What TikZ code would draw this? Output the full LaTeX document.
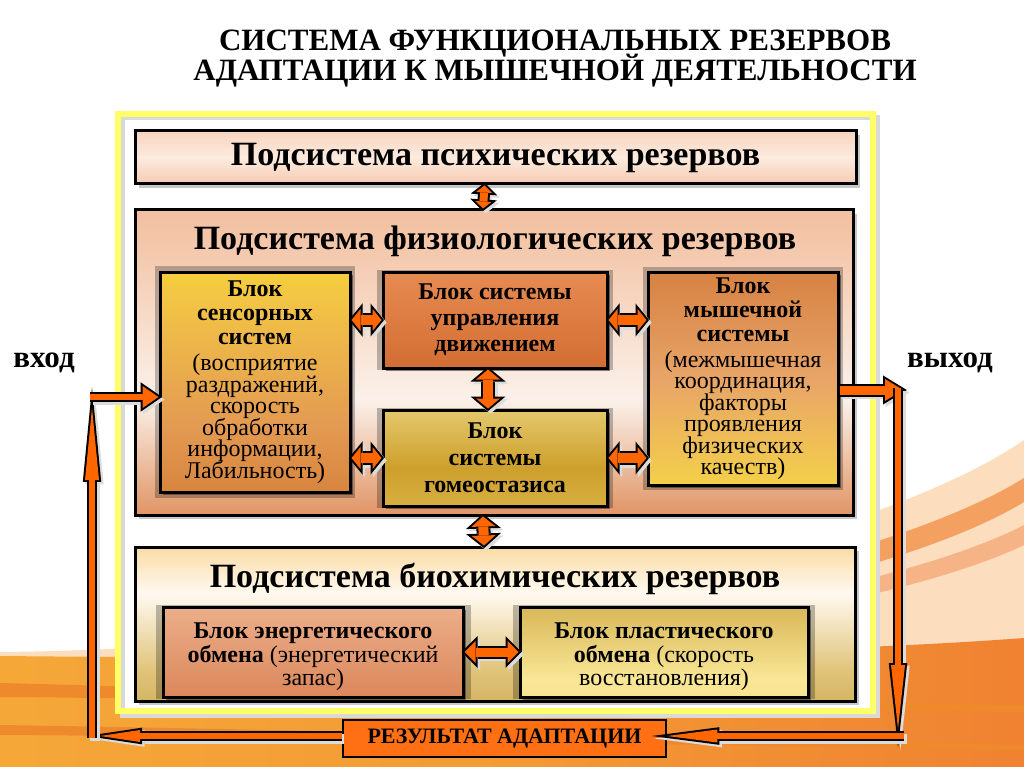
\documentclass[tikz,border=0pt]{standalone}
\usepackage{fontspec}
\setmainfont{Liberation Serif}
\usetikzlibrary{arrows.meta,shadows}

\definecolor{arrOr}{HTML}{FF6600}
\definecolor{resOr}{HTML}{FF7014}
\definecolor{frameY}{HTML}{FFFF66}
\definecolor{frameSh}{HTML}{D9D9D9}
\definecolor{arrSh}{HTML}{DCDCDC}
\definecolor{psT}{HTML}{F2BD9C}\definecolor{psM}{HTML}{FCEBDF}\definecolor{psB}{HTML}{EFAA84}
\definecolor{phT}{HTML}{EA9C74}\definecolor{phA}{HTML}{F3C6A9}\definecolor{phM}{HTML}{FBF1EA}
\definecolor{phC}{HTML}{DC8650}\definecolor{phB}{HTML}{C55C1A}
\definecolor{snB}{HTML}{C4621E}\definecolor{snA}{HTML}{E39A52}\definecolor{snC}{HTML}{F3C644}\definecolor{snT}{HTML}{FBF20A}
\definecolor{ctB}{HTML}{C75F22}\definecolor{ctM}{HTML}{DD7C42}\definecolor{ctT}{HTML}{EE9A62}
\definecolor{hoB}{HTML}{E3C15C}\definecolor{hoM}{HTML}{CDA02C}\definecolor{hoT}{HTML}{F7EAA2}
\definecolor{muB}{HTML}{FAF21A}\definecolor{muA}{HTML}{F3D04A}\definecolor{muM}{HTML}{E8A468}\definecolor{muT}{HTML}{C4601E}
\definecolor{biB}{HTML}{B9902C}\definecolor{biA}{HTML}{E0C47A}\definecolor{biM}{HTML}{FFF9F0}\definecolor{biT}{HTML}{F8D28C}
\definecolor{enB}{HTML}{D37443}\definecolor{enT}{HTML}{F4C2A2}
\definecolor{plB}{HTML}{F2DC80}\definecolor{plM}{HTML}{F9E696}\definecolor{plT}{HTML}{C39B32}
\definecolor{bgPeach}{HTML}{FCDDBE}\definecolor{bgBand}{HTML}{F3A060}\definecolor{bgPink}{HTML}{F6B486}
\definecolor{bgL}{HTML}{F8B53C}\definecolor{bgMid}{HTML}{F39A35}\definecolor{bgR}{HTML}{EC6A2E}
\definecolor{bgStreak}{HTML}{EF8A2C}

\pgfdeclareverticalshading{psychSh}{100bp}{color(0bp)=(psB); color(50bp)=(psM); color(100bp)=(psT)}
\pgfdeclareverticalshading{physSh}{100bp}{color(0bp)=(phB); color(22bp)=(phC); color(44bp)=(phM); color(70bp)=(phA); color(100bp)=(phT)}
\pgfdeclareverticalshading{sensSh}{100bp}{color(0bp)=(snB); color(40bp)=(snA); color(70bp)=(snC); color(100bp)=(snT)}
\pgfdeclareverticalshading{ctrlSh}{100bp}{color(0bp)=(ctB); color(50bp)=(ctM); color(100bp)=(ctT)}
\pgfdeclareverticalshading{homeoSh}{100bp}{color(0bp)=(hoB); color(45bp)=(hoM); color(100bp)=(hoT)}
\pgfdeclareverticalshading{muscSh}{100bp}{color(0bp)=(muB); color(25bp)=(muA); color(50bp)=(muM); color(100bp)=(muT)}
\pgfdeclareverticalshading{bioSh}{100bp}{color(0bp)=(biB); color(35bp)=(biA); color(60bp)=(biM); color(80bp)=(biT); color(100bp)=(biT)}
\pgfdeclareverticalshading{enSh}{100bp}{color(0bp)=(enB); color(100bp)=(enT)}
\pgfdeclareverticalshading{plSh}{100bp}{color(0bp)=(plB); color(35bp)=(plM); color(100bp)=(plT)}
\pgfdeclarehorizontalshading{bgSh}{100bp}{color(0bp)=(bgL); color(50bp)=(bgMid); color(100bp)=(bgR)}

\newcommand\bl[1]{{\bfseries #1}}
\newcommand\fs[2]{\fontsize{#1}{#2}\selectfont\lineskiplimit=-100pt\relax}

\tikzset{
  bigbox/.style={draw=black, line width=3pt, shade, shading=#1,
    drop shadow={shadow xshift=4pt, shadow yshift=-4pt, fill=black!22, opacity=1}},
  blockbox/.style={draw=black, line width=3pt, shade, shading=#1, align=center,
    general shadow={shadow scale=1.05, fill=black, opacity=.25},
    drop shadow={shadow xshift=3pt, shadow yshift=-3pt, fill=black!80, opacity=.6}},
  boxtitle/.style={font=\fs{34}{34}\bfseries},
  sarr/.style n args={7}{
    preaction={draw=arrSh, line width=#4, arrows={-Triangle[length=#5,width=#6,line width=0pt]},
      shorten >=-#7, transform canvas={shift={(2.5pt,-2.5pt)}}},
    preaction={draw=black, line width=#4, arrows={-Triangle[length=#5,width=#6,line width=0pt]},
      shorten >=-#7},
    draw=arrOr, line width=#1, arrows={-Triangle[length=#2,width=#3,line width=0pt]}},
  darr/.style n args={7}{
    preaction={draw=arrSh, line width=#4,
      arrows={Triangle[length=#5,width=#6,line width=0pt]-Triangle[length=#5,width=#6,line width=0pt]},
      shorten >=-#7, shorten <=-#7, transform canvas={shift={(2.5pt,-2.5pt)}}},
    preaction={draw=black, line width=#4,
      arrows={Triangle[length=#5,width=#6,line width=0pt]-Triangle[length=#5,width=#6,line width=0pt]},
      shorten >=-#7, shorten <=-#7},
    draw=arrOr, line width=#1,
    arrows={Triangle[length=#2,width=#3,line width=0pt]-Triangle[length=#2,width=#3,line width=0pt]}},
  smallarr/.style={darr={10pt}{9pt}{22pt}{14pt}{13.6pt}{33.2pt}{2.6pt}},
  vertarr/.style={darr={10pt}{10pt}{24pt}{14pt}{14.6pt}{35pt}{2.6pt}},
  tinyarr/.style={darr={8pt}{7pt}{16pt}{12pt}{11.7pt}{26.6pt}{2.7pt}},
  midarr/.style={darr={9pt}{11pt}{22pt}{13pt}{15.8pt}{31.7pt}{2.8pt}},
  outarr/.style={sarr={9pt}{18pt}{22pt}{13pt}{23.8pt}{29.1pt}{3.8pt}},
  inarr/.style={sarr={6pt}{16pt}{22pt}{10pt}{21.5pt}{29.6pt}{3.5pt}},
  longL/.style={sarr={6pt}{72pt}{14pt}{10pt}{94.6pt}{18.4pt}{20.7pt}},
  longR/.style={sarr={6pt}{64pt}{14pt}{10pt}{84.4pt}{18.5pt}{18.4pt}},
  botR/.style={sarr={6pt}{50pt}{13pt}{10pt}{67.5pt}{17.6pt}{15.5pt}},
  botL/.style={sarr={6pt}{40pt}{12pt}{10pt}{55.5pt}{16.6pt}{13.5pt}},
}

\begin{document}
\begin{tikzpicture}[x=1pt,y=-1pt]
\useasboundingbox (0,0) rectangle (1024,767);
\fill[white] (0,0) rectangle (1024,767);

% background waves
\fill[bgPeach] (1024,440) .. controls (880,540) and (450,648) .. (0,652) -- (0,767) -- (1024,767) -- cycle;
\fill[bgBand] (1024,478) .. controls (880,568) and (450,662) .. (0,664) -- (0,672) .. controls (450,672) and (880,590) .. (1024,502) -- cycle;
\fill[bgPink] (1024,525) .. controls (880,600) and (450,670) .. (0,674) -- (0,680) .. controls (450,680) and (880,615) .. (1024,545) -- cycle;
\shade[shading=bgSh] (1024,638) .. controls (800,655) and (400,660) .. (0,656) -- (0,767) -- (1024,767) -- cycle;
\fill[bgStreak] (0,683) .. controls (200,688) and (500,700) .. (1024,705) -- (1024,712) .. controls (500,708) and (200,698) .. (0,697) -- cycle;
\fill[bgStreak] (0,725) .. controls (200,728) and (500,735) .. (1024,745) -- (1024,750) .. controls (500,742) and (200,736) .. (0,735) -- cycle;

% frame
\fill[white] (118,114) rectangle (873,711);
\draw[line width=5pt, frameSh] (122,118) rectangle (877,715);
\draw[line width=6pt, frameY] (118,114) rectangle (873,711);

% title
\node[font=\fs{31}{30}\bfseries, align=center] (title) at (555,59)
  {СИСТЕМА ФУНКЦИОНАЛЬНЫХ РЕЗЕРВОВ\\АДАПТАЦИИ К МЫШЕЧНОЙ ДЕЯТЕЛЬНОСТИ};

% subsystems
\node[bigbox=psychSh, minimum width=721, minimum height=53, boxtitle] (psych) at (495.5,157.5)
  {Подсистема психических резервов};
\node[bigbox=physSh, minimum width=718, minimum height=305] (phys) at (494,362.5) {};
\node[boxtitle] (physT) at (495,241) {Подсистема физиологических резервов};
\node[bigbox=bioSh, minimum width=720, minimum height=154] (bio) at (495,624) {};
\node[boxtitle] (bioT) at (495,579) {Подсистема биохимических резервов};

% blocks
\node[blockbox=sensSh, minimum width=190, minimum height=220, font=\fs{24}{21.5}] (sens) at (255,382)
  {\bl{Блок}\\[2.5pt]\bl{сенсорных}\\[2.5pt]\bl{систем}\\[4.5pt](восприятие\\раздражений,\\скорость\\обработки\\информации,\\Лабильность)};
\node[blockbox=ctrlSh, minimum width=224, minimum height=96, font=\fs{24}{26}\bfseries] (ctrl) at (495,320)
  {Блок системы\\управления\\движением};
\node[blockbox=homeoSh, minimum width=224, minimum height=96, font=\fs{24}{27}\bfseries] (homeo) at (495,458)
  {Блок\\системы\\гомеостазиса};
\node[blockbox=muscSh, minimum width=190, minimum height=213, font=\fs{24}{21.5}] (musc) at (743,378.5)
  {\bl{Блок}\\[2.5pt]\bl{мышечной}\\[2.5pt]\bl{системы}\\[4.5pt](межмышечная\\координация,\\факторы\\проявления\\физических\\качеств)};
\node[blockbox=enSh, minimum width=300, minimum height=90,
  label={[yshift=-5pt, align=center, font=\fs{24}{23.5}]center:{\bl{Блок энергетического}\\\bl{обмена} (энергетический\\запас)}}]
  (energy) at (313,652) {};
\node[blockbox=plSh, minimum width=288, minimum height=90,
  label={[yshift=-5pt, align=center, font=\fs{24}{23.5}]center:{\bl{Блок пластического}\\\bl{обмена} (скорость\\восстановления)}}]
  (plastic) at (664,652) {};

% result
\node[draw=black, line width=2.5pt, fill=resOr, minimum width=323, minimum height=37,
  font=\fs{22}{22}\bfseries] (res) at (504.5,738.5) {РЕЗУЛЬТАТ АДАПТАЦИИ};

% in / out labels
\node[font=\fs{31}{31}\bfseries] (vhod) at (44,363) {вход};
\node[font=\fs{31}{31}\bfseries] (vyhod) at (950,363) {выход};

% coordinates for the loop
\coordinate (outR) at (903,390);
\coordinate (rTop) at (898,388);
\coordinate (rBot) at (898,729);
\coordinate (brC) at (904,736);
\coordinate (blC) at (100,736);
\coordinate (lBot) at (92,738);
\coordinate (lTop) at (92,408);
\coordinate (inL) at (90,397);

% internal connectors
\draw[tinyarr] ([xshift=-11pt]psych.south) -- ([xshift=-11pt]phys.north);
\draw[smallarr] (sens.east |- ctrl) -- (ctrl.west);
\draw[smallarr] (sens.east |- homeo) -- (homeo.west);
\draw[smallarr] (ctrl.east) -- (musc.west |- ctrl);
\draw[smallarr] (homeo.east) -- (musc.west |- homeo);
\draw[vertarr] ([xshift=-7pt]ctrl.south) -- ([xshift=-7pt]homeo.north);
\draw[vertarr] ([xshift=-11pt]phys.south) -- ([xshift=-11pt]bio.north);
\draw[midarr] (energy.east) -- (plastic.west);

% loop connectors
\draw[outarr] (musc.east |- outR) -- (outR);
\draw[longR] (rTop) -- (rBot);
\draw[botR] (brC) -- (res.east |- brC);
\draw[botL] (res.west |- blC) -- (blC);
\draw[longL] (lBot) -- (lTop);
\draw[inarr] (inL) -- (sens.west |- inL);
\end{tikzpicture}
\end{document}
